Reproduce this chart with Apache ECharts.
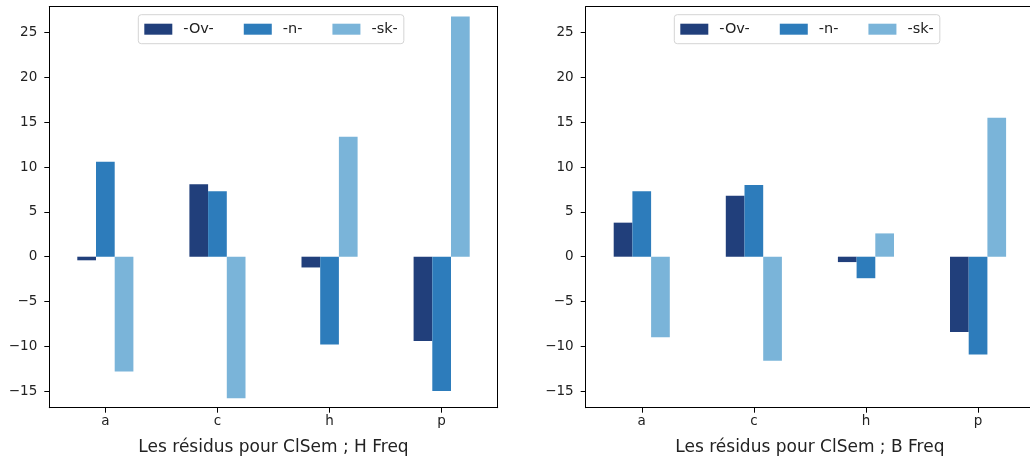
<!DOCTYPE html>
<html>
<head>
<meta charset="utf-8">
<script src="https://cdn.jsdelivr.net/npm/echarts@6/dist/echarts.min.js"></script>
<style>
  html, body { margin: 0; padding: 0; background: #fff; }
  #chart { width: 1030px; height: 458px; }
</style>
</head>
<body>
<div id="chart"></div>
<script>
// Categories and series names
const categories = ['a', 'c', 'h', 'p'];
const seriesNames = ['-Ov-', '-n-', '-sk-'];
const yTicks = [-15, -10, -5, 0, 5, 10, 15, 20, 25];

// Residuals, H Freq panel
const hOv = [-0.4, 8.1, -1.2, -9.4];
const hN  = [10.6, 7.3, -9.8, -15.0];
const hSk = [-12.8, -15.8, 13.4, 26.8];

// Residuals, B Freq panel
const bOv = [3.8, 6.8, -0.6, -8.4];
const bN  = [7.3, 8.0, -2.4, -10.9];
const bSk = [-9.0, -11.6, 2.6, 15.5];

const xTitles = ['Les résidus pour ClSem ; H Freq', 'Les résidus pour ClSem ; B Freq'];

const colors = ['#213f7b', '#2d7cbb', '#7ab4d9'];
const FONT = 'DejaVu Sans';
const TEXT = '#222';

const chart = echarts.init(document.getElementById('chart'), null, { renderer: 'canvas' });

const plotW = 448.4, plotH = 401, plotTop = 6.7;
const grids = [
  { left: 49.3, top: plotTop, width: plotW, height: plotH },
  { left: 585.7, top: plotTop, width: plotW, height: plotH }
];

const fmt = v => String(v).replace('-', '\u2212');
const spine = { show: true, onZero: false, lineStyle: { color: '#000', width: 1 } };

function xAxis(i) {
  return {
    type: 'category', gridIndex: i, data: categories, position: 'bottom',
    name: xTitles[i], nameLocation: 'middle', nameGap: 31,
    nameTextStyle: { fontFamily: FONT, fontSize: 17, color: TEXT },
    axisLine: spine,
    axisTick: { show: true, alignWithLabel: true, length: 5, lineStyle: { color: '#000' } },
    axisLabel: { fontFamily: FONT, fontSize: 13.5, color: TEXT, margin: 7 },
    splitLine: { show: false }
  };
}
// Top spine of each panel
function topAxis(i) {
  return {
    type: 'category', gridIndex: i, data: categories, position: 'top',
    axisLine: spine, axisTick: { show: false }, axisLabel: { show: false },
    splitLine: { show: false }
  };
}
function yAxis(i, pos) {
  return {
    type: 'value', gridIndex: i, min: -16.85, max: 27.9, position: pos,
    axisLine: spine,
    axisTick: { show: pos === 'left', length: 5, customValues: yTicks, lineStyle: { color: '#000' } },
    axisLabel: { show: pos === 'left', fontFamily: FONT, fontSize: 13.5, color: TEXT, margin: 12,
                 customValues: yTicks, formatter: fmt },
    splitLine: { show: false }
  };
}
function legend(i, left) {
  return {
    show: true, data: seriesNames, left: left, top: 14.7,
    orient: 'horizontal', icon: 'rect', itemWidth: 28, itemHeight: 11, itemGap: 30,
    padding: [7, 6, 7, 6], borderColor: '#d4d4d4', borderWidth: 1, borderRadius: 3,
    backgroundColor: 'rgba(255,255,255,0.8)',
    textStyle: { fontFamily: FONT, fontSize: 14.5, color: TEXT, lineHeight: 12, padding: [0, 0, 0, 6] },
    selectedMode: false
  };
}
function bar(name, data, gi, ci) {
  return {
    type: 'bar', name: name, data: data, xAxisIndex: gi, yAxisIndex: gi,
    barWidth: 18.7, barGap: '0%', itemStyle: { color: colors[ci] },
    animation: false
  };
}

chart.setOption({
  animation: false,
  color: colors,
  grid: grids.map(g => Object.assign({
    show: false, containLabel: false, outerBoundsMode: 'none'
  }, g)),
  xAxis: [xAxis(0), xAxis(1), topAxis(0), topAxis(1)],
  // the right-hand panel runs past the page edge, so only the left panel gets a right spine
  yAxis: [yAxis(0, 'left'), yAxis(1, 'left'), yAxis(0, 'right')],
  legend: [legend(0, 138.3), legend(1, 674.3)],
  series: [
    bar(seriesNames[0], hOv, 0, 0), bar(seriesNames[1], hN, 0, 1), bar(seriesNames[2], hSk, 0, 2),
    bar(seriesNames[0], bOv, 1, 0), bar(seriesNames[1], bN, 1, 1), bar(seriesNames[2], bSk, 1, 2)
  ]
});
</script>
</body>
</html>
